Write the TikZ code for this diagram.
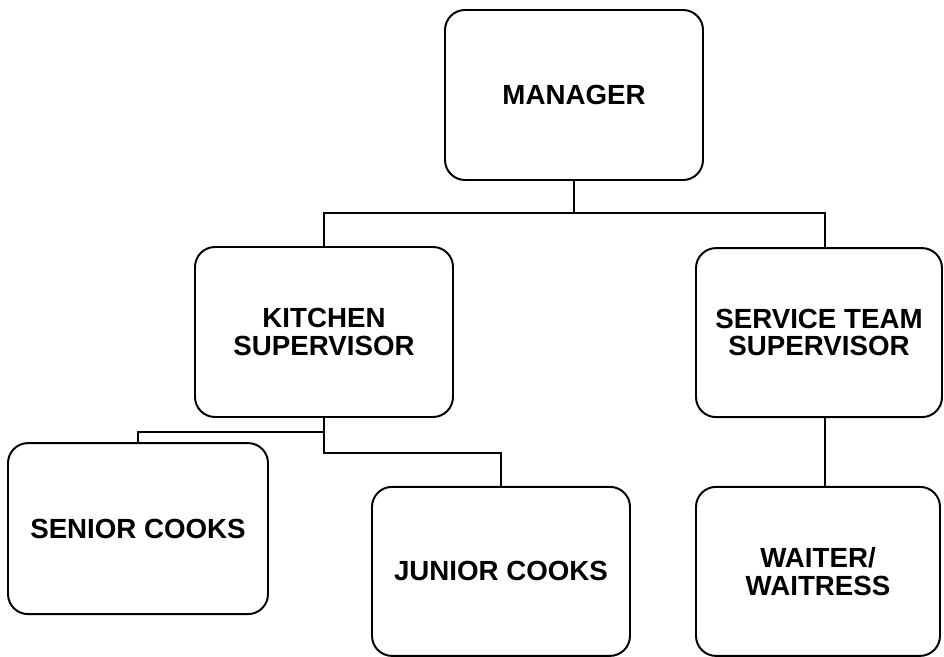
\documentclass[tikz,border=0pt]{standalone}
\usepackage{fontspec}
\setmainfont{Liberation Sans}
\usetikzlibrary{positioning}

\begin{document}
\begin{tikzpicture}[
    post/.style={rectangle, draw, rounded corners=0.5cm, line width=1.4pt, align=center,
        font=\bfseries\fontsize{19.7}{19.5}\selectfont},
    link/.style={line width=1.1pt}
]

\useasboundingbox (0, 0) rectangle (23.6, 16.425);

\node[post, minimum height = 4.25cm, minimum width = 6.45cm] (manager) at (14.35, 14.05) {MANAGER};

\node[post, minimum height = 4.25cm, minimum width = 6.45cm] (kitchen) at (8.1, 8.125) {KITCHEN\\SUPERVISOR};

\node[post, minimum height = 4.225cm, minimum width = 6.15cm] (service) at (20.475, 8.11) {SERVICE TEAM\\SUPERVISOR};

\node[post, minimum height = 4.275cm, minimum width = 6.5cm] (senior) at (3.45, 3.21) {SENIOR COOKS};

\node[post, minimum height = 4.225cm, minimum width = 6.45cm] (junior) at (12.525, 2.14) {JUNIOR COOKS};

\node[post, minimum height = 4.225cm, minimum width = 6.1cm] (waiter) at (20.45, 2.14) {WAITER/\\WAITRESS};

    \draw [link] (manager.south) -- ++(0, -0.8) coordinate (top);

    \draw [link] (kitchen.north) |- (top) -| ([xshift=0.15cm]service.north);


    \draw [link] (kitchen.south) -- ++(0, -0.875) -| (junior.north);

    \draw [link] (senior.north) |- ([yshift=-0.35cm]kitchen.south);


    \draw [link] ([xshift=0.15cm]service.south) -- ([xshift=0.15cm]service.south |- waiter.north);

\end{tikzpicture}
\end{document}
